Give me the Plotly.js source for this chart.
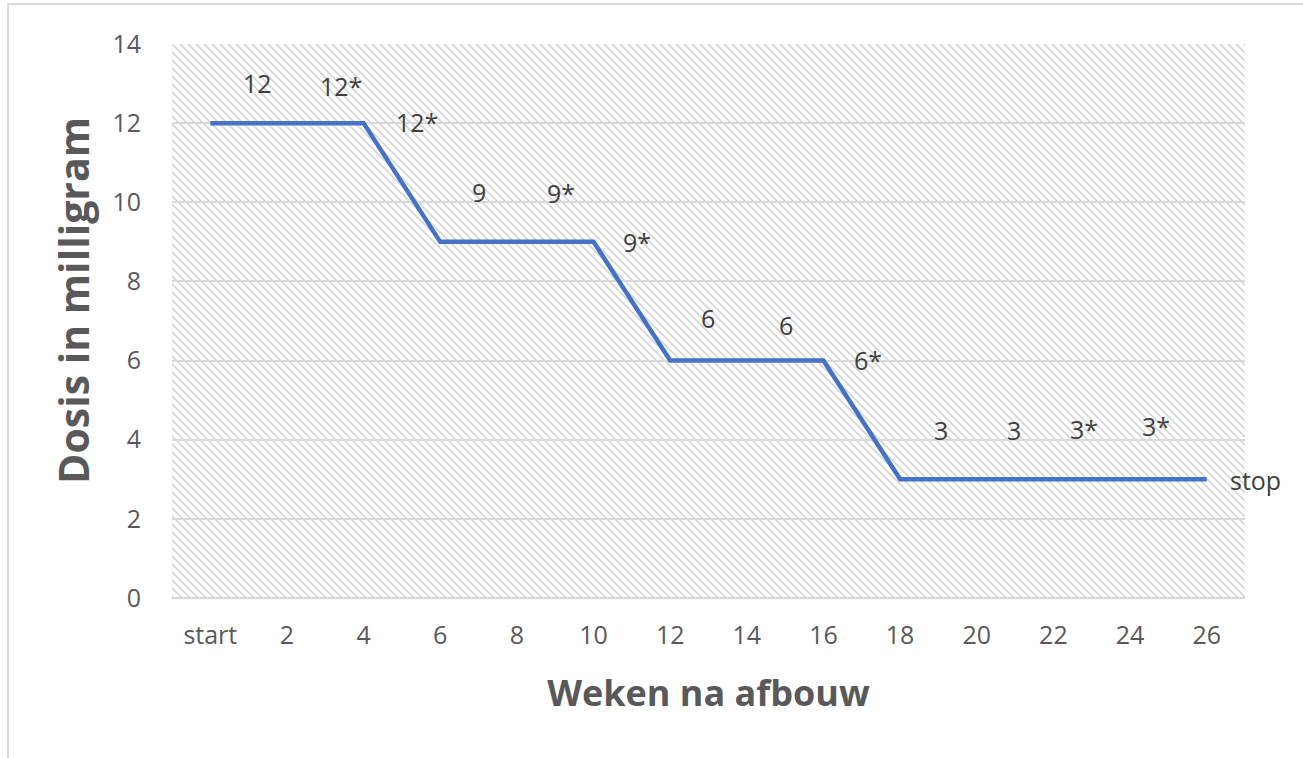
<!DOCTYPE html>
<html>
<head>
<meta charset="utf-8">
<script src="https://cdn.plot.ly/plotly-3.0.1.min.js"></script>
<style>
  html, body { margin: 0; padding: 0; background: #fff; }
  #wrap { position: relative; width: 1303px; height: 758px; }
  #chart { width: 1303px; height: 758px; }
  #frame { position: absolute; left: 7px; top: 3px; right: -10px; bottom: -10px;
           border-left: 2px solid #d9d9d9; border-top: 2px solid #d9d9d9; pointer-events: none; }
</style>
</head>
<body>
<div id="wrap">
  <div id="chart"></div>
  <div id="frame"></div>
</div>
<script>
// ---- data ----
const weeks = ["start", "2", "4", "6", "8", "10", "12", "14", "16", "18", "20", "22", "24", "26"];
const dose  = [12, 12, 12, 9, 9, 9, 6, 6, 6, 3, 3, 3, 3, 3];

const labelText = ["12", "12*", "12*", "9", "9*", "9*", "6", "6", "6*", "3", "3", "3*", "3*", "stop"];
const labelX    = [0.61, 1.70, 2.70, 3.50, 4.57, 5.57, 6.49, 7.51, 8.58, 9.54, 10.48, 11.40, 12.34, 13.64];
const labelY    = [13.02, 12.94, 12.03, 10.26, 10.24, 9.0, 7.07, 6.9, 6.01, 4.25, 4.25, 4.27, 4.35, 2.98];

const yTicks = [0, 2, 4, 6, 8, 10, 12, 14];
const xTitle = "Weken na afbouw";
const yTitle = "Dosis in milligram";

// ---- hatch background ----
const hatchSvg =
  "<svg xmlns='http://www.w3.org/2000/svg' width='1073' height='554'>" +
  "<defs><pattern id='p' width='8' height='8' patternUnits='userSpaceOnUse'>" +
  "<path d='M-2,-2 L10,10 M-2,6 L2,10 M6,-2 L10,2' stroke='#d6d6d6' stroke-width='1.7'/>" +
  "</pattern></defs><rect width='100%' height='100%' fill='url(#p)'/></svg>";
const hatchUri = "data:image/svg+xml;charset=utf-8," + encodeURIComponent(hatchSvg);

const font = "'Open Sans', 'DejaVu Sans', sans-serif";
const xMax = weeks.length - 0.5;
const catPx = 1073 / weeks.length;

const trace = {
  type: "scatter",
  mode: "lines",
  x: weeks,
  y: dose,
  line: { color: "#4472C4", width: 4.5 },
  hoverinfo: "x+y",
  showlegend: false
};

const annotations = labelText.map((t, i) => {
  // labels past the last category are anchored at the last category and shifted right
  const over = Math.max(0, labelX[i] - (weeks.length - 1));
  return {
    x: labelX[i] - over, y: labelY[i], xref: "x", yref: "y",
    xshift: over * catPx,
    text: t, showarrow: false,
    font: { family: font, size: 25, color: "#404040" },
    xanchor: "center", yanchor: "middle"
  };
});

// y axis title (placed slightly above the plot centre, as in the original)
annotations.push({
  xref: "paper", yref: "paper",
  x: -0.0923, y: 0.538,
  xanchor: "center", yanchor: "middle",
  textangle: -90,
  text: "<b>" + yTitle + "</b>",
  showarrow: false,
  font: { family: font, size: 41, color: "#595959" }
});

const layout = {
  width: 1303, height: 758,
  margin: { l: 172, r: 58, t: 44, b: 160 },
  paper_bgcolor: "#ffffff",
  plot_bgcolor: "#ffffff",
  showlegend: false,
  font: { family: font, color: "#595959" },
  xaxis: {
    type: "category",
    range: [-0.5, xMax],
    showgrid: false,
    zeroline: false,
    showline: false,
    ticks: "",
    ticklabelstandoff: 20,
    tickfont: { family: font, size: 25, color: "#595959" },
    title: { text: "<b>" + xTitle + "</b>", font: { family: font, size: 36, color: "#595959" }, standoff: 30 },
    fixedrange: true
  },
  yaxis: {
    range: [0, 14],
    tickvals: yTicks,
    showgrid: true,
    gridcolor: "#d9d9d9",
    gridwidth: 2,
    zeroline: true,
    zerolinecolor: "#d9d9d9",
    zerolinewidth: 2,
    showline: false,
    ticks: "",
    ticklabelstandoff: 30,
    tickfont: { family: font, size: 25, color: "#595959" },
    fixedrange: true
  },
  images: [{
    source: hatchUri,
    xref: "paper", yref: "paper",
    x: 0, y: 1, sizex: 1, sizey: 1,
    xanchor: "left", yanchor: "top",
    sizing: "stretch",
    layer: "below"
  }],
  annotations: annotations
};

Plotly.newPlot("chart", [trace], layout, { displayModeBar: false, staticPlot: true });
</script>
</body>
</html>
